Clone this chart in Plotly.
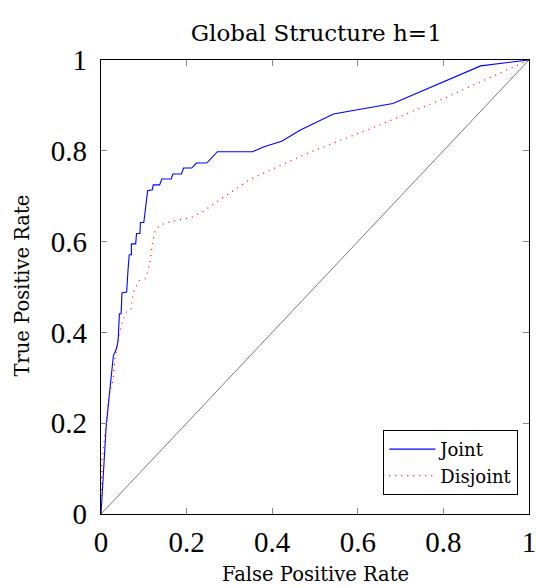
import plotly.graph_objects as go

# ROC curve coordinates (false positive rate, true positive rate)
joint_fpr = [0.0, 0.005, 0.012, 0.023, 0.029, 0.036, 0.040, 0.043, 0.047, 0.049, 0.060,
             0.063, 0.066, 0.071, 0.071, 0.081, 0.083, 0.091, 0.092, 0.100, 0.103, 0.106,
             0.109, 0.120, 0.122, 0.137, 0.142, 0.164, 0.168, 0.188, 0.193, 0.212, 0.223,
             0.247, 0.272, 0.354, 0.381, 0.422, 0.466, 0.543, 0.682, 0.887, 1.0]
joint_tpr = [0.0, 0.075, 0.192, 0.295, 0.349, 0.364, 0.382, 0.441, 0.441, 0.487, 0.489,
             0.536, 0.571, 0.571, 0.595, 0.595, 0.618, 0.618, 0.642, 0.642, 0.667, 0.689,
             0.712, 0.714, 0.725, 0.725, 0.738, 0.738, 0.749, 0.749, 0.762, 0.762, 0.773,
             0.773, 0.798, 0.798, 0.809, 0.821, 0.846, 0.881, 0.904, 0.987, 1.0]

disjoint_fpr = [0.0, 0.001, 0.002, 0.007, 0.012, 0.018, 0.028, 0.033, 0.043, 0.051, 0.060,
                0.069, 0.076, 0.090, 0.103, 0.109, 0.115, 0.121, 0.127, 0.139, 0.167, 0.195,
                0.210, 0.237, 0.260, 0.298, 0.336, 0.346, 0.478, 0.633, 0.788, 0.989, 1.0]
disjoint_tpr = [0.0, 0.075, 0.111, 0.155, 0.207, 0.258, 0.295, 0.346, 0.397, 0.426, 0.445,
                0.448, 0.489, 0.514, 0.518, 0.533, 0.558, 0.600, 0.626, 0.637, 0.645, 0.650,
                0.653, 0.665, 0.681, 0.705, 0.728, 0.736, 0.793, 0.850, 0.910, 0.994, 1.0]

chance = [0.0, 1.0]

tick_vals = [0, 0.2, 0.4, 0.6, 0.8, 1]
tick_text = ["0", "0.2", "0.4", "0.6", "0.8", "1"]

TEXT_FONT = "DejaVu Serif"
TICK_FONT = "Liberation Serif"

fig = go.Figure()
fig.add_trace(go.Scatter(x=chance, y=chance, mode="lines",
                         line=dict(color="#7a7a7a", width=1), showlegend=False,
                         hoverinfo="skip"))
fig.add_trace(go.Scatter(x=joint_fpr, y=joint_tpr, mode="lines", name="Joint",
                         line=dict(color="blue", width=1.1)))
fig.add_trace(go.Scatter(x=disjoint_fpr, y=disjoint_tpr, mode="lines", name="Disjoint",
                         line=dict(color="red", width=1.2, dash="1px,5px")))

axis_common = dict(
    range=[0, 1], tickvals=tick_vals, ticktext=tick_text,
    showgrid=False, zeroline=False, automargin=False,
    showline=True, linecolor="black", linewidth=1.3, mirror="allticks",
    ticks="inside", ticklen=6, tickcolor="#888888", tickwidth=1.3,
    ticklabeloverflow="allow",
    tickfont=dict(family=TICK_FONT, size=29, color="black"),
)

fig.update_layout(
    width=536, height=587,
    margin=dict(l=101, r=7, t=60, b=73),
    paper_bgcolor="white", plot_bgcolor="white",
    title=dict(text="Global Structure h=1", x=0.59, xanchor="center", y=0.944,
               yanchor="middle", font=dict(family=TEXT_FONT, size=23, color="black")),
    xaxis=dict(axis_common, ticklabelstandoff=2),
    yaxis=dict(axis_common, ticklabelstandoff=7),
    legend=dict(x=0.975, y=0.042, xanchor="right", yanchor="bottom",
                bordercolor="black", borderwidth=1, bgcolor="white",
                font=dict(family=TEXT_FONT, size=18, color="black"),
                tracegroupgap=0, itemwidth=46),
    annotations=[
        dict(text="False Positive Rate", xref="paper", yref="paper",
             x=0.502, y=-0.134, xanchor="center", yanchor="middle", showarrow=False,
             font=dict(family=TEXT_FONT, size=19.5, color="black")),
        dict(text="True Positive Rate", xref="paper", yref="paper",
             x=-0.1837, y=0.504, xanchor="center", yanchor="middle", showarrow=False,
             textangle=-90, font=dict(family=TEXT_FONT, size=19.5, color="black")),
    ],
)

fig.write_html("out.html")
